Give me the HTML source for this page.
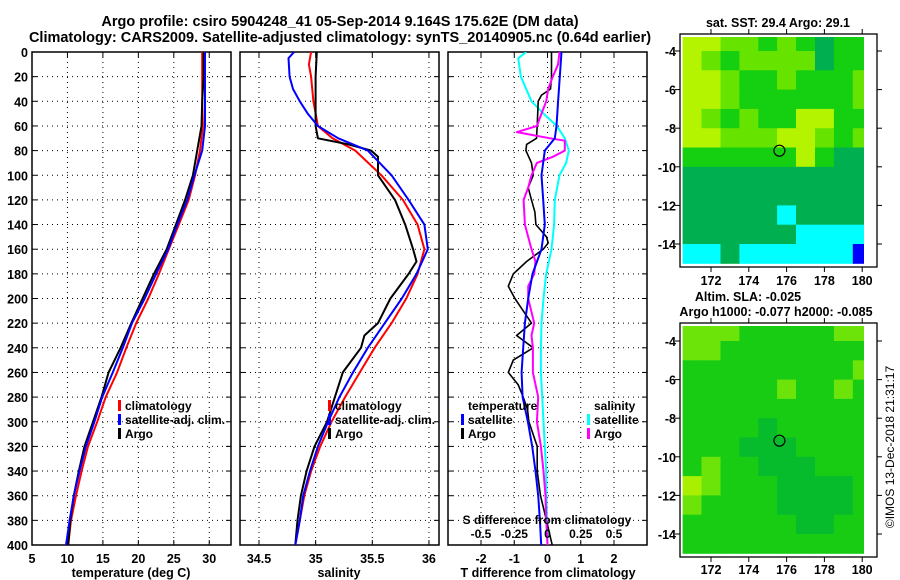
<!DOCTYPE html>
<html><head><meta charset="utf-8"><style>
html,body{margin:0;padding:0;background:#fff;}
svg{display:block;font-family:"Liberation Sans",sans-serif;font-weight:bold;}
</style></head><body>
<svg id="chart" width="900" height="580" viewBox="0 0 900 580" xmlns="http://www.w3.org/2000/svg">
<defs>
<clipPath id="clipP1"><rect x="32" y="52" width="199" height="493"/></clipPath>
<clipPath id="clipP2"><rect x="240" y="52" width="199" height="493"/></clipPath>
<clipPath id="clipP3"><rect x="448" y="52" width="199" height="493"/></clipPath>
<clipPath id="clipM1"><rect x="681" y="37" width="183" height="228"/></clipPath>
<clipPath id="clipM2"><rect x="681" y="326" width="183" height="229"/></clipPath>
</defs>
<text x="340" y="26" text-anchor="middle" font-size="14.5">Argo profile: csiro 5904248_41 05-Sep-2014 9.164S 175.62E (DM data)</text>
<text x="340" y="42" text-anchor="middle" font-size="14.5">Climatology: CARS2009. Satellite-adjusted climatology: synTS_20140905.nc (0.64d earlier)</text>
<g id="g1"></g>
<g id="g2"></g>
<g id="g3"></g>
<g id="m1"></g>
<g id="m2"></g>
<text x="778" y="27" text-anchor="middle" font-size="12.5">sat. SST: 29.4 Argo: 29.1</text>
<text x="748" y="301" text-anchor="middle" font-size="12.5">Altim. SLA: -0.025</text>
<text x="776" y="316" text-anchor="middle" font-size="12.5">Argo h1000: -0.077 h2000: -0.085</text>
<text transform="translate(894,447) rotate(-90)" text-anchor="middle" font-size="12" font-weight="normal">©IMOS 13-Dec-2018 21:31:17</text>
</svg>
<script>
// ---------- data ----------
const depth20 = [0,20,40,60,80,100,120,140,160,180,200,220,240,260,280,300,320,340,360,380,400];
const tempClim = [29.0,29.0,29.0,29.1,28.7,28.0,27.1,25.7,24.3,22.9,21.4,19.7,18.3,17.0,15.4,14.2,12.9,12.0,11.2,10.5,10.1];
const tempSat = [29.4,29.4,29.4,29.4,29.0,27.9,26.9,25.5,24.2,22.5,20.9,19.1,17.8,16.4,14.9,13.8,12.6,11.7,10.9,10.3,9.8];
const tempArgo = [29.2,29.2,29.0,28.9,28.3,27.7,26.6,25.3,24.0,22.2,20.6,19.0,17.5,15.8,14.8,13.6,12.4,11.6,10.9,10.4,10.1];

const salClimDepth = [0,10,20,40,60,70,80,100,120,140,160,180,200,220,240,260,280,300,320,340,360,380,400];
const salClim = [34.96,34.94,34.96,34.98,35.02,35.15,35.35,35.58,35.77,35.90,35.96,35.90,35.80,35.67,35.52,35.39,35.26,35.14,35.04,34.96,34.90,34.86,34.82];
const salSatDepth = [0,5,20,30,40,50,60,70,80,100,120,140,160,180,200,220,240,260,280,300,320,340,360,380,400];
const salSat = [34.81,34.76,34.77,34.80,34.86,34.93,35.02,35.20,35.46,35.67,35.82,35.96,35.99,35.89,35.76,35.61,35.46,35.33,35.21,35.11,35.02,34.95,34.89,34.86,34.82];
const salArgoDepth = [0,20,40,60,70,75,80,85,100,120,140,160,170,180,200,220,230,240,260,280,300,320,340,360,380,400];
const salArgo = [35.01,35.00,35.00,35.00,35.02,35.29,35.49,35.55,35.55,35.70,35.79,35.86,35.89,35.82,35.66,35.55,35.43,35.40,35.24,35.17,35.10,34.99,34.92,34.87,34.84,34.82];

const dTSatDepth = [0,20,40,60,70,80,100,120,140,160,180,200,220,240,260,280,300,320,340,360,380,400];
const dTSat = [0.42,0.37,0.32,0.27,0.22,-0.08,-0.18,-0.13,-0.08,-0.18,-0.45,-0.58,-0.68,-0.73,-0.78,-0.75,-0.59,-0.46,-0.36,-0.28,-0.23,-0.19];
const dTArgoDepth = [0,20,30,35,40,60,70,75,80,90,100,110,120,130,140,150,155,160,170,180,190,200,210,220,230,240,250,260,270,280,290,300,320,340,360,380,400];
const dTArgo = [0.12,0.12,0.09,-0.18,-0.28,-0.31,-0.33,-0.63,-0.65,-0.48,-0.43,-0.58,-0.48,-0.38,-0.35,-0.03,0.02,-0.13,-0.63,-1.03,-1.18,-0.98,-0.73,-0.48,-0.93,-0.43,-1.03,-1.18,-0.88,-0.73,-0.6,-0.56,-0.31,-0.31,-0.21,-0.03,0.14];
const dSSatDepth = [0,5,20,40,50,60,70,80,90,100,120,140,160,180,200,220,240,260,280,300,320,340,360,380,400];
const dSSat = [-0.16,-0.22,-0.20,-0.12,-0.03,0.07,0.13,0.16,0.14,0.09,0.055,0.05,0.03,-0.01,-0.03,-0.045,-0.05,-0.05,-0.04,-0.03,-0.02,-0.01,-0.008,-0.003,0.0];
const dSArgoDepth = [0,10,20,30,40,50,60,65,70,72,80,85,90,100,110,120,140,160,170,180,190,200,220,230,240,260,280,300,320,340,360,380,400];
const dSArgo = [0.09,0.08,0.04,0.005,-0.01,-0.045,-0.08,-0.23,0.02,0.13,0.13,0.04,-0.08,-0.12,-0.145,-0.18,-0.17,-0.12,-0.09,-0.10,-0.145,-0.145,-0.10,-0.12,-0.11,-0.11,-0.07,-0.08,-0.05,-0.03,-0.015,-0.01,0.0];

const depthTicks = [0,20,40,60,80,100,120,140,160,180,200,220,240,260,280,300,320,340,360,380,400];
const tempTicks = [5,10,15,20,25,30];
const salTicks = [34.5,35,35.5,36];
const dTTicks = [-2,-1,0,1,2];
const dSTickLabels = ["-0.5","-0.25","0","0.25","0.5"];
const dSTicks = [-0.5,-0.25,0,0.25,0.5];
const lonTicks = [172,174,176,178,180];
const latTicks = [-4,-6,-8,-10,-12,-14];

// map grids: 1-degree cells, rows from lat -3 southward, cols from lon 170.5 eastward
const sstRows = ["yyllglgdgg","ylglllldgg","yylgglgggl","yylggggggl","ylglggyygg","yylllyylgl","ggggggygdd","dddddddddd","dddddddddd","dddddcdddd","ddddddcccc","ccdccccccb"];
const slaRows = ["LLLGGGGGLL","LLGGGGGGGG","GGGGGGGGGL","GGGGGLGGLG","GGGGGGGGGG","GGGGDGGGGG","GGGDDDGGGG","GLGGDDDGGG","YLGGGDDDDG","LGGGGDDDDG","GGGGGGDDGG","GGGGGGGGGG"];
const sstColors = {y:"#b4f400",l:"#66e400",g:"#14d010",d:"#00b050",c:"#00ffff",b:"#0000ff"};
const slaColors = {L:"#6ce40a",G:"#18cc14",D:"#06bc2c",Y:"#a8f000"};
const argoLon = 175.62, argoLat = -9.164;

// ---------- helpers ----------
const NS = "http://www.w3.org/2000/svg";
function mk(parent, tag, attrs){ const e=document.createElementNS(NS,tag); for(const k in attrs) e.setAttribute(k,attrs[k]); parent.appendChild(e); return e; }
const yD = d => 52 + d*493/400;
const xT = t => 32 + (t-5)*7.09;
const xS = s => 259 + (s-34.5)*113.3;
const xDT = v => 547.5 + v*33.25;
const xDS = v => 547.5 + v*133;
const mxLon = lon => 711 + (lon-172)*18.9;
const myLat1 = lat => 51 + (-4-lat)*19.3;
const myLat2 = lat => 341 + (-4-lat)*19.3;

function frame(g, x0, name){
  const r = mk(g,'rect',{x:x0,y:52,width:199,height:493,fill:'none',stroke:'#000','stroke-width':1.5});
  
  
  depthTicks.forEach(d=>{
    const y=yD(d);
    const gl = mk(g,'line',{x1:x0,x2:x0+199,y1:y,y2:y,stroke:'#000','stroke-width':1,'stroke-dasharray':'1,4'});
    
    
    mk(g,'line',{x1:x0,x2:x0+5,y1:y,y2:y,stroke:'#000'});
    mk(g,'line',{x1:x0+194,x2:x0+199,y1:y,y2:y,stroke:'#000'});
  });
}
function vgrid(g, ticks, fx, labels){
  ticks.forEach((t,i)=>{
    const x=fx(t);
    const gl = mk(g,'line',{x1:x,x2:x,y1:52,y2:545,stroke:'#000','stroke-width':1,'stroke-dasharray':'1,4'});
    
    
    mk(g,'line',{x1:x,x2:x,y1:545,y2:540,stroke:'#000'});
    mk(g,'line',{x1:x,x2:x,y1:52,y2:57,stroke:'#000'});
    if(labels){
      const tx = mk(g,'text',{x:x,y:563,'text-anchor':'middle','font-size':12.5});
      tx.textContent = labels[i];
      
      
    }
  });
}
function line(g, clip, xs, ds, fx, color, w, name){
  const pts = xs.map((v,i)=>fx(v).toFixed(1)+','+yD(ds[i]).toFixed(1)).join(' ');
  const p = mk(g,'polyline',{points:pts,fill:'none',stroke:color,'stroke-width':w,'clip-path':'url(#'+clip+')','stroke-linejoin':'round'});
  
  
}
function label(g,x,y,txt,size,anchor,name){
  const t = mk(g,'text',{x:x,y:y,'font-size':size,'text-anchor':anchor||'start'});
  t.textContent = txt;
  
  
  return t;
}
function legBar(g,x,y,color){
  const r = mk(g,'rect',{x:x,y:y-10,width:3,height:11,fill:color});
  
  
}

// ---------- panel 1 ----------
const g1 = document.getElementById('g1');
frame(g1,32,'temperature-panel');
vgrid(g1,tempTicks,xT,tempTicks.map(String));
depthTicks.forEach(d=>{ label(g1,28,yD(d)+5,String(d),12.5,'end','y-tick-label'); });
line(g1,'clipP1',tempClim,depth20,xT,'#ff0000',2,'temperature-climatology-line');
line(g1,'clipP1',tempArgo,depth20,xT,'#000000',2,'temperature-argo-line');
line(g1,'clipP1',tempSat,depth20,xT,'#0000ff',2,'temperature-satellite-line');
label(g1,131,577,'temperature (deg C)',12.5,'middle','x-axis-title-temperature');
legBar(g1,118,410,'#ff0000'); label(g1,125,410,'climatology',12,'start','legend-entry-climatology');
legBar(g1,118,424,'#0000ff'); label(g1,125,424,'satellite-adj. clim.',12,'start','legend-entry-satellite');
legBar(g1,118,438,'#000000'); label(g1,125,438,'Argo',12,'start','legend-entry-argo');

// ---------- panel 2 ----------
const g2 = document.getElementById('g2');
frame(g2,240,'salinity-panel');
vgrid(g2,salTicks,xS,salTicks.map(String));
line(g2,'clipP2',salClim,salClimDepth,xS,'#ff0000',2,'salinity-climatology-line');
line(g2,'clipP2',salArgo,salArgoDepth,xS,'#000000',2,'salinity-argo-line');
line(g2,'clipP2',salSat,salSatDepth,xS,'#0000ff',2,'salinity-satellite-line');
label(g2,339,577,'salinity',12.5,'middle','x-axis-title-salinity');
legBar(g2,328,410,'#ff0000'); label(g2,335,410,'climatology',12,'start','legend-entry-climatology');
legBar(g2,328,424,'#0000ff'); label(g2,335,424,'satellite-adj. clim.',12,'start','legend-entry-satellite');
legBar(g2,328,438,'#000000'); label(g2,335,438,'Argo',12,'start','legend-entry-argo');

// ---------- panel 3 ----------
const g3 = document.getElementById('g3');
frame(g3,448,'difference-panel');
vgrid(g3,dTTicks,xDT,dTTicks.map(String));
line(g3,'clipP3',dSSat,dSSatDepth,xDS,'#00ffff',2,'salinity-diff-satellite-line');
line(g3,'clipP3',dTArgo,dTArgoDepth,xDT,'#000000',1.6,'temperature-diff-argo-line');
line(g3,'clipP3',dSArgo,dSArgoDepth,xDS,'#ff00ff',2,'salinity-diff-argo-line');
line(g3,'clipP3',dTSat,dTSatDepth,xDT,'#0000ff',2,'temperature-diff-satellite-line');
label(g3,548,577,'T difference from climatology',12.5,'middle','x-axis-title-t-difference');
label(g3,547,524,'S difference from climatology',12,'middle','s-axis-title');
dSTicks.forEach((v,i)=>label(g3,xDS(v),538,dSTickLabels[i],12,'middle','s-tick-label'));
label(g3,468,410,'temperature',12,'start','legend-title-temperature');
legBar(g3,461,424,'#0000ff'); label(g3,468,424,'satellite',12,'start','legend-entry-t-satellite');
legBar(g3,461,438,'#000000'); label(g3,468,438,'Argo',12,'start','legend-entry-t-argo');
label(g3,594,410,'salinity',12,'start','legend-title-salinity');
legBar(g3,587,424,'#00ffff'); label(g3,594,424,'satellite',12,'start','legend-entry-s-satellite');
legBar(g3,587,438,'#ff00ff'); label(g3,594,438,'Argo',12,'start','legend-entry-s-argo');

// ---------- maps ----------
function drawMap(g, rows, colors, myLat, top, bottom, clip, lonLabelY, name){
  const cg = mk(g,'g',{'clip-path':'url(#'+clip+')'});
  rows.forEach((row,r)=>{
    for(let c=0;c<row.length;c++){
      const lon = 170.5 + c, lat = -3 - r;
      const x0 = mxLon(lon), x1 = mxLon(lon+1), y0 = myLat(lat), y1 = myLat(lat-1);
      const cell = mk(cg,'rect',{x:x0.toFixed(1),y:y0.toFixed(1),width:(x1-x0+0.5).toFixed(1),height:(y1-y0+0.5).toFixed(1),fill:colors[row[c]]});
      
      
    }
  });
  const fr = mk(g,'rect',{x:680,y:top,width:197,height:bottom-top,fill:'none',stroke:'#000','stroke-width':1.3});
  
  
  lonTicks.forEach(l=>{
    const x=mxLon(l);
    mk(g,'line',{x1:x,x2:x,y1:bottom,y2:bottom+5,stroke:'#000'});
    mk(g,'line',{x1:x,x2:x,y1:top,y2:top-5,stroke:'#000'});
    label(g,x,lonLabelY,String(l),12.5,'middle','lon-tick-label');
  });
  latTicks.forEach(l=>{
    const y=myLat(l);
    mk(g,'line',{x1:680,x2:675,y1:y,y2:y,stroke:'#000'});
    mk(g,'line',{x1:877,x2:882,y1:y,y2:y,stroke:'#000'});
    label(g,676,y+5,String(l),12.5,'end','lat-tick-label');
  });
  const mk1 = mk(g,'circle',{cx:mxLon(argoLon),cy:myLat(argoLat),r:5.5,fill:'none',stroke:'#000','stroke-width':1.2});
  
  
}
drawMap(document.getElementById('m1'),sstRows,sstColors,myLat1,34,267,'clipM1',285,'sst-map');
drawMap(document.getElementById('m2'),slaRows,slaColors,myLat2,323,557,'clipM2',574,'sla-map');
</script>
</body></html>
